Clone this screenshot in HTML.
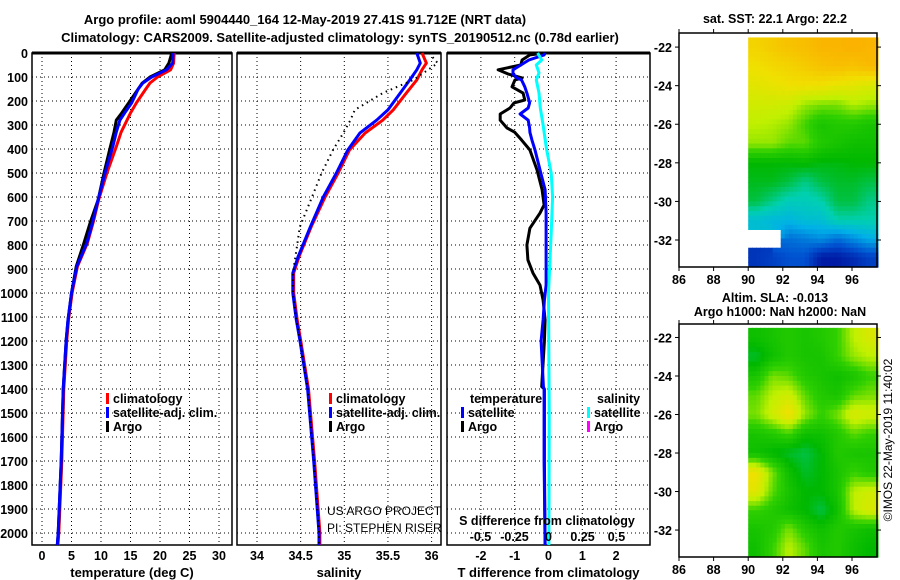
<!DOCTYPE html>
<html><head><meta charset="utf-8"><style>
html,body{margin:0;padding:0;background:#fff;}
svg{display:block;font-family:"Liberation Sans",sans-serif;}
.t{font-weight:bold;font-size:13px;fill:#000;}
.tk{font-weight:bold;font-size:12.5px;fill:#000;}
.g{stroke:#000;stroke-width:1;stroke-dasharray:1 3;}
</style></head><body>
<svg id="c" width="900" height="580" viewBox="0 0 900 580">
<text class="t" x="305" y="24" text-anchor="middle" font-size="14">Argo profile: aoml 5904440_164 12-May-2019 27.41S 91.712E (NRT data)</text>
<text class="t" x="340" y="42" text-anchor="middle" font-size="14">Climatology: CARS2009. Satellite-adjusted climatology: synTS_20190512.nc (0.78d earlier)</text>
<g id="p1"></g>
<g id="p2"></g>
<g id="p3"></g>
<g id="m1"></g>
<g id="m2"></g>
<text x="892" y="440" font-size="12" text-anchor="middle" transform="rotate(-90 892 440)">©IMOS 22-May-2019 11:40:02</text>
</svg>
<script>
// ---- data ----
const depthTicks=[0,100,200,300,400,500,600,700,800,900,1000,1100,1200,1300,1400,1500,1600,1700,1800,1900,2000];
const tempTicks=[0,5,10,15,20,25,30];
const salTicks=[34,34.5,35,35.5,36];
const tdiffTicks=[-2,-1,0,1,2];
const sdiffTicks=[-0.5,-0.25,0,0.25,0.5];
const tDepth=[0,42,70,100,125,150,208,250,280,330,390,500,612,704,792,890,1000,1112,1195,1400,1700,2000,2050];
const tempClim=[22.4,22.3,21.8,19.6,18.3,17.6,16.0,15.0,14.4,13.4,12.6,11.0,9.6,8.7,7.7,6.0,5.1,4.5,4.2,3.7,3.35,2.85,2.7];
const tempSat=[22.2,22.15,21.1,18.6,17.1,16.3,15.2,14.0,13.2,12.6,12.0,10.7,9.5,8.6,7.6,5.9,5.0,4.4,4.1,3.6,3.25,2.75,2.6];
const tempArgo=[22.0,21.5,20.8,18.3,17.0,16.3,14.7,13.5,12.6,12.2,11.6,10.5,9.5,8.2,7.1,5.8,5.0,4.4,4.1,3.6,3.25,2.75,2.6];
const sDepth=[0,42,70,112,167,237,280,333,404,500,600,725,850,917,1000,1112,1195,1400,1700,2000,2050];
const salClim=[35.89,35.94,35.89,35.83,35.71,35.56,35.44,35.24,35.06,34.93,34.78,34.62,34.48,34.42,34.42,34.46,34.5,34.59,34.66,34.72,34.72];
const salSat=[35.83,35.87,35.83,35.75,35.64,35.5,35.37,35.18,35.04,34.91,34.76,34.61,34.47,34.41,34.41,34.45,34.49,34.58,34.65,34.71,34.71];
const salArgo=[35.97,36.07,35.96,35.79,35.44,35.12,35.07,34.99,34.87,34.74,34.63,34.49,34.44,34.41,34.41,34.45,34.49,34.58,34.65,34.71,34.71];
const dDepth=[0,8,29,50,70,87,104,112,141,167,196,208,229,254,280,312,330,362,404,487,570,633,667,730,800,862,917,967,1030,1112,1200,1390,1400,1700,2050];
const tdiffArgo=[-0.1,-0.55,-0.78,-0.82,-1.49,-1.2,-0.78,-0.99,-1.08,-0.75,-0.7,-1.02,-1.14,-1.43,-1.43,-1.23,-1.0,-0.8,-0.55,-0.34,-0.19,-0.13,-0.25,-0.55,-0.64,-0.61,-0.46,-0.25,-0.16,-0.1,-0.12,-0.2,-0.12,-0.12,-0.1];
const tdiffSat=[-0.1,-0.13,-0.58,-0.82,-1.05,-1.05,-0.93,-0.8,-0.7,-0.64,-0.58,-0.56,-0.6,-0.84,-0.6,-0.56,-0.55,-0.49,-0.4,-0.25,-0.1,-0.08,-0.07,-0.07,-0.07,-0.07,-0.07,-0.07,-0.12,-0.16,-0.22,-0.15,-0.13,-0.13,-0.1];
const sdDepth=[0,29,50,83,112,167,229,300,400,500,600,750,1000,1500,2050];
const sdiffSat=[-0.08,-0.05,-0.09,-0.07,-0.09,-0.07,-0.06,-0.04,-0.015,0.02,0.03,0.02,0,0.005,0.003];
const lonTicks=[86,88,90,92,94,96];
const latTicks=[-22,-24,-26,-28,-30,-32];
const gridLon=[90,90.94,91.88,92.81,93.75,94.69,95.63,96.56,97.5];
const gridLat=[-21.5,-22.5,-23.5,-24.5,-25.5,-26.5,-27.5,-28.5,-29.5,-30.5,-31.45,-32.4,-33.4];
const sstGrid=[
[0.88,0.9,0.92,0.93,0.95,0.95,0.96,0.95],
[0.85,0.87,0.88,0.9,0.92,0.93,0.92,0.94],
[0.82,0.83,0.85,0.85,0.85,0.83,0.82,0.8],
[0.78,0.78,0.77,0.72,0.7,0.7,0.74,0.72],
[0.75,0.74,0.72,0.66,0.6,0.62,0.62,0.6],
[0.72,0.72,0.68,0.68,0.62,0.6,0.58,0.58],
[0.55,0.55,0.55,0.56,0.54,0.54,0.55,0.55],
[0.53,0.53,0.5,0.45,0.5,0.52,0.52,0.5],
[0.5,0.45,0.4,0.4,0.42,0.5,0.5,0.45],
[0.35,0.33,0.32,0.35,0.35,0.42,0.42,0.42],
[null,null,0.2,0.22,0.25,0.2,0.25,0.3],
[0.1,0.12,0.15,0.15,0.05,0.05,0.08,0.12]];
const slaGrid=[
[0.58,0.6,0.62,0.6,0.62,0.65,0.75,0.8],
[0.52,0.58,0.62,0.6,0.6,0.65,0.72,0.75],
[0.6,0.7,0.68,0.62,0.6,0.58,0.6,0.65],
[0.68,0.75,0.78,0.68,0.62,0.6,0.68,0.7],
[0.7,0.78,0.86,0.72,0.65,0.7,0.8,0.78],
[0.6,0.62,0.66,0.58,0.58,0.62,0.68,0.65],
[0.58,0.55,0.52,0.5,0.55,0.62,0.6,0.6],
[0.85,0.7,0.58,0.52,0.55,0.6,0.65,0.62],
[0.82,0.68,0.6,0.55,0.55,0.6,0.75,0.78],
[0.65,0.62,0.58,0.55,0.5,0.58,0.75,0.8],
[0.6,0.62,0.7,0.62,0.58,0.62,0.6,0.58],
[0.58,0.65,0.75,0.68,0.6,0.62,0.58,0.55]];
// ---- drawing ----
const NS='http://www.w3.org/2000/svg';
function mk(parent,tag,attrs){const e=document.createElementNS(NS,tag);for(const k in attrs)e.setAttribute(k,attrs[k]);parent.appendChild(e);return e;}
const Y0=53,YB=545;
const yD=d=>Y0+d*0.24;
const xT=v=>42+v*5.9;
const xS=v=>257+(v-34)*87.3;
const xTD=v=>548.5+v*33.8;
const xSD=v=>548.5+v*136;
function panel(g,x0,x1,xf,ticks,fmt,label){
  depthTicks.forEach(d=>{const l=mk(g,'line',{x1:x0,x2:x1,y1:yD(d),y2:yD(d),class:'g'});
    });
  ticks.forEach(t=>{const l=mk(g,'line',{x1:xf(t),x2:xf(t),y1:Y0,y2:YB,class:'g'});
    
    const tx=mk(g,'text',{x:xf(t),y:560,class:'tk','text-anchor':'middle'});tx.textContent=fmt(t);
    });
  const r=mk(g,'rect',{x:x0,y:Y0,width:x1-x0,height:YB-Y0,fill:'none',stroke:'#000','stroke-width':1.5});
  
  mk(g,'line',{x1:x0,x2:x1,y1:Y0,y2:Y0,stroke:'#000','stroke-width':3});
  const lb=mk(g,'text',{x:(x0+x1)/2,y:577,class:'t','text-anchor':'middle'});lb.textContent=label;
  
}
function line(g,vals,deps,xf,color,name,w,dash){
  const d=vals.map((v,i)=>(i?'L':'M')+xf(v).toFixed(1)+','+yD(deps[i]).toFixed(1)).join('');
  const p=mk(g,'path',{d:d,fill:'none',stroke:color,'stroke-width':w||3,'stroke-linejoin':'round'});
  if(dash)p.setAttribute('stroke-dasharray',dash);
  
}
function legend(g,x,y,color,txt){
  mk(g,'rect',{x:x,y:y-10,width:3,height:11,fill:color});
  const t=mk(g,'text',{x:x+7,y:y,class:'tk'});t.textContent=txt;
  
}
const p1=document.getElementById('p1'),p2=document.getElementById('p2'),p3=document.getElementById('p3');
panel(p1,32,232,xT,tempTicks,String,'temperature (deg C)');
depthTicks.forEach(d=>{const t=mk(p1,'text',{x:28,y:yD(d)+5,class:'tk','text-anchor':'end'});t.textContent=d;
  });
line(p1,tempClim,tDepth,xT,'#f00','temp-climatology-line');
line(p1,tempArgo,tDepth,xT,'#000','temp-argo-line');
line(p1,tempSat,tDepth,xT,'#00f','temp-satellite-line');
legend(p1,106,403,'#f00','climatology');legend(p1,106,417,'#00f','satellite-adj. clim.');legend(p1,106,431,'#000','Argo');

panel(p2,237,441,xS,salTicks,String,'salinity');
line(p2,salClim,sDepth,xS,'#f00','sal-climatology-line');
line(p2,salSat,sDepth,xS,'#00f','sal-satellite-line');
line(p2,salArgo,sDepth,xS,'#000','sal-argo-line',2,'1.5 4');
legend(p2,329,403,'#f00','climatology');legend(p2,329,417,'#00f','satellite-adj. clim.');legend(p2,329,431,'#000','Argo');
const cl=mk(p2,'svg',{x:237,y:0,width:204,height:580,overflow:'hidden'});
const u1=mk(cl,'text',{x:90,y:515,'font-size':12});u1.textContent='US ARGO PROJECT';
const u2=mk(cl,'text',{x:90,y:532,'font-size':12});u2.textContent='PI: STEPHEN RISER';

panel(p3,447,650,xTD,tdiffTicks,String,'T difference from climatology');
line(p3,tdiffArgo,dDepth,xTD,'#000','tdiff-argo-line');
line(p3,tdiffSat,dDepth,xTD,'#00f','tdiff-satellite-line');
line(p3,sdiffSat,sdDepth,xSD,'#0ff','sdiff-satellite-line');
[['temperature',470],['salinity',597]].forEach(a=>{const t=mk(p3,'text',{x:a[1],y:403,class:'tk'});t.textContent=a[0];});
legend(p3,461,417,'#00f','satellite');legend(p3,461,431,'#000','Argo');
legend(p3,587,417,'#0ff','satellite');legend(p3,587,431,'#f0f','Argo');
const sdt=mk(p3,'text',{x:547,y:525,class:'tk','text-anchor':'middle'});sdt.textContent='S difference from climatology';

sdiffTicks.forEach(t=>{const x=mk(p3,'text',{x:xSD(t),y:541,class:'tk','text-anchor':'middle'});x.textContent=String(t);
  });

const stops=[[0,[0,0,143]],[0.15,[0,80,208]],[0.3,[0,176,232]],[0.42,[0,208,176]],[0.55,[0,184,0]],[0.65,[48,208,0]],[0.75,[192,240,0]],[0.85,[240,224,0]],[1,[255,160,0]]];
function cmap(v){for(let i=1;i<stops.length;i++){if(v<=stops[i][0]){const a=stops[i-1],b=stops[i],f=(v-a[0])/(b[0]-a[0]);
  return 'rgb('+a[1].map((c,k)=>Math.round(c+(b[1][k]-c)*f)).join(',')+')';}}return 'rgb(255,160,0)';}
function sample(grid,fr,fc){
  const R=grid.length,C=grid[0].length;
  const r=Math.min(Math.max(fr-0.5,0),R-1),c=Math.min(Math.max(fc-0.5,0),C-1);
  const r0=Math.floor(r),c0=Math.floor(c),r1=Math.min(r0+1,R-1),c1=Math.min(c0+1,C-1);
  const a=grid[r0][c0],b=grid[r0][c1],d=grid[r1][c0],e=grid[r1][c1];
  if(grid[Math.min(Math.floor(fr),R-1)][Math.min(Math.floor(fc),C-1)]===null)return null;
  const vals=[a,b,d,e],fb=vals.find(x=>x!==null);
  const A=a??fb,B=b??fb,D=d??fb,E=e??fb;
  const fy=r-r0,fx=c-c0;
  return (A*(1-fx)+B*fx)*(1-fy)+(D*(1-fx)+E*fx)*fy;
}
function map(g,top,bot,latTop,latBot,grid,title1,title2){
  const xL=v=>679+(v-86)*17.3;
  const yL=v=>top+(latTop-v)*(bot-top)/(latTop-latBot);
  const S=4,R=grid.length,C=grid[0].length;
  for(let r=0;r<R;r++)for(let sr=0;sr<S;sr++)for(let c=0;c<C;c++)for(let sc=0;sc<S;sc++){
    const v=sample(grid,r+(sr+0.5)/S,c+(sc+0.5)/S);if(v===null)continue;
    const la0=gridLat[r]+(gridLat[r+1]-gridLat[r])*sr/S,la1=gridLat[r]+(gridLat[r+1]-gridLat[r])*(sr+1)/S;
    const lo0=gridLon[c]+(gridLon[c+1]-gridLon[c])*sc/S,lo1=gridLon[c]+(gridLon[c+1]-gridLon[c])*(sc+1)/S;
    const rc=mk(g,'rect',{x:xL(lo0),y:yL(la0),width:xL(lo1)-xL(lo0)+0.6,height:yL(la1)-yL(la0)+0.6,fill:cmap(v)});
    
  }
  mk(g,'rect',{x:679,y:top,width:198,height:bot-top,fill:'none',stroke:'#000','stroke-width':1.5});
  lonTicks.forEach(t=>{mk(g,'line',{x1:xL(t),x2:xL(t),y1:bot,y2:bot+4,stroke:'#000'});mk(g,'line',{x1:xL(t),x2:xL(t),y1:top,y2:top-4,stroke:'#000'});
    const tx=mk(g,'text',{x:xL(t),y:bot+17,class:'tk','text-anchor':'middle'});tx.textContent=t;
    });
  latTicks.forEach(t=>{mk(g,'line',{x1:675,x2:679,y1:yL(t),y2:yL(t),stroke:'#000'});mk(g,'line',{x1:877,x2:881,y1:yL(t),y2:yL(t),stroke:'#000'});
    const tx=mk(g,'text',{x:672,y:yL(t)+5,class:'tk','text-anchor':'end'});tx.textContent=t;
    });
  const a=mk(g,'text',{x:775,y:title2?top-22:top-10,class:'tk','text-anchor':'middle'});a.textContent=title1;
  
  if(title2){const b=mk(g,'text',{x:780,y:top-8,class:'tk','text-anchor':'middle'});b.textContent=title2;
    }
}
map(document.getElementById('m1'),33,267,-21.27,-33.4,sstGrid,'sat. SST: 22.1 Argo: 22.2');
map(document.getElementById('m2'),324,557,-21.3,-33.4,slaGrid,'Altim. SLA: -0.013','Argo h1000: NaN h2000: NaN');
</script>
</body></html>
